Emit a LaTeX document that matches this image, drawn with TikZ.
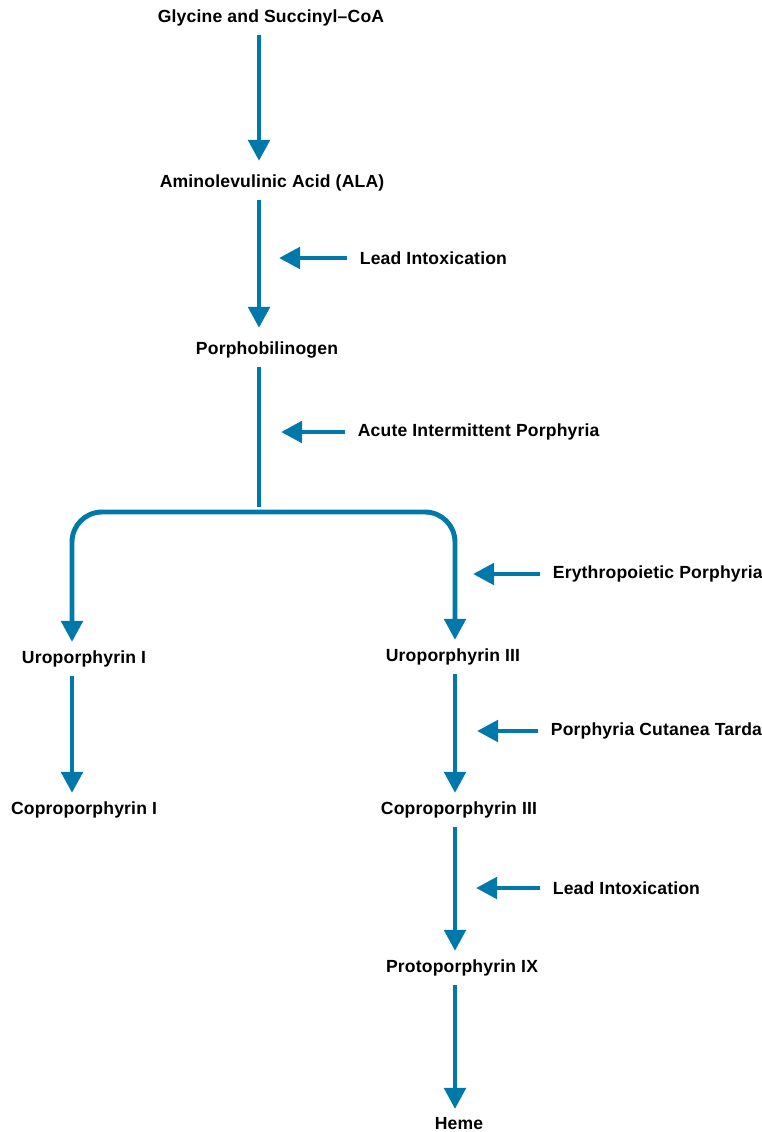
\documentclass[tikz,border=0pt]{standalone}
\usepackage{fontspec}
\setmainfont{Liberation Sans}[LetterSpace=1]
\usepackage{tikz}
\usetikzlibrary{arrows.meta}

\definecolor{pathblue}{RGB}{0,121,170}

\begin{document}
\begin{tikzpicture}[x=0.02cm,y=-0.02cm]
      \useasboundingbox (0,0) rectangle (761,1132);

      \begin{scope}[every node/.style={font=\fontsize{10}{12}\selectfont\bfseries,inner sep=2pt}]
        \node (gly) at (271,18) {Glycine and Succinyl--CoA};
        \node (ala) at (272,183) {Aminolevulinic Acid (ALA)};
        \node (pbg) at (267,350) {Porphobilinogen};
        \node (uro1) at (84,659) {Uroporphyrin I};
        \node (copro1) at (84,810) {Coproporphyrin I};
        \node (uro3) at (453,657) {Uroporphyrin III};
        \node (copro3) at (459,810) {Coproporphyrin III};
        \node (proto) at (462,968) {Protoporphyrin IX};
        \node (heme) at (459,1124) {Heme};
        % disorders blocking each step
        \node[anchor=west] (lead1) at (356,258) {Lead Intoxication};
        \node[anchor=west] (aip) at (354,432) {Acute Intermittent Porphyria};
        \node[anchor=west] (ep) at (549,574) {Erythropoietic Porphyria};
        \node[anchor=west] (pct) at (547,731) {Porphyria Cutanea Tarda};
        \node[anchor=west] (lead2) at (549,888) {Lead Intoxication};
      \end{scope}

      \coordinate (colA) at (259,0);
      \coordinate (colL) at (72,0);
      \coordinate (colR) at (455,0);
      \coordinate (split) at (259,512);

      \begin{scope}[>={Triangle[length=12pt,width=12pt]},
          every path/.style={draw=pathblue,line width=2.8pt},
          shorten >=0.1cm, shorten <=0.1cm]
        \draw[->,shorten >=0.2cm] (gly.south -| colA) -- (ala.north -| colA);
        \draw[->,shorten >=0.2cm] (ala.south -| colA) -- (pbg.north -| colA);
        \draw (pbg.south -| colA) -- (split);
        \draw[->,rounded corners=0.6cm,shorten <=0pt] (split) -| (uro1.north -| colL);
        \draw[->,rounded corners=0.6cm,shorten <=0pt] (split) -| (uro3.north -| colR);
        \draw[->] (uro1.south -| colL) -- (copro1.north -| colL);
        \draw[->] (uro3.south -| colR) -- (copro3.north -| colR);
        \draw[->] (copro3.south -| colR) -- (proto.north -| colR);
        \draw[->] (proto.south -| colR) -- (heme.north -| colR);
      \end{scope}

      % side arrows
      \begin{scope}[>={Triangle[length=12pt,width=12pt]},
          every path/.style={draw=pathblue,line width=2.8pt},
          shorten <=0.18cm]
        \draw[->] (lead1.west) -- ++(-77,0);
        \draw[->] (aip.west) -- ++(-73,0);
        \draw[->] (ep.west) -- ++(-76,0);
        \draw[->] (pct.west) -- ++(-70,0);
        \draw[->] (lead2.west) -- ++(-73,0);
      \end{scope}
    \end{tikzpicture}
\end{document}
